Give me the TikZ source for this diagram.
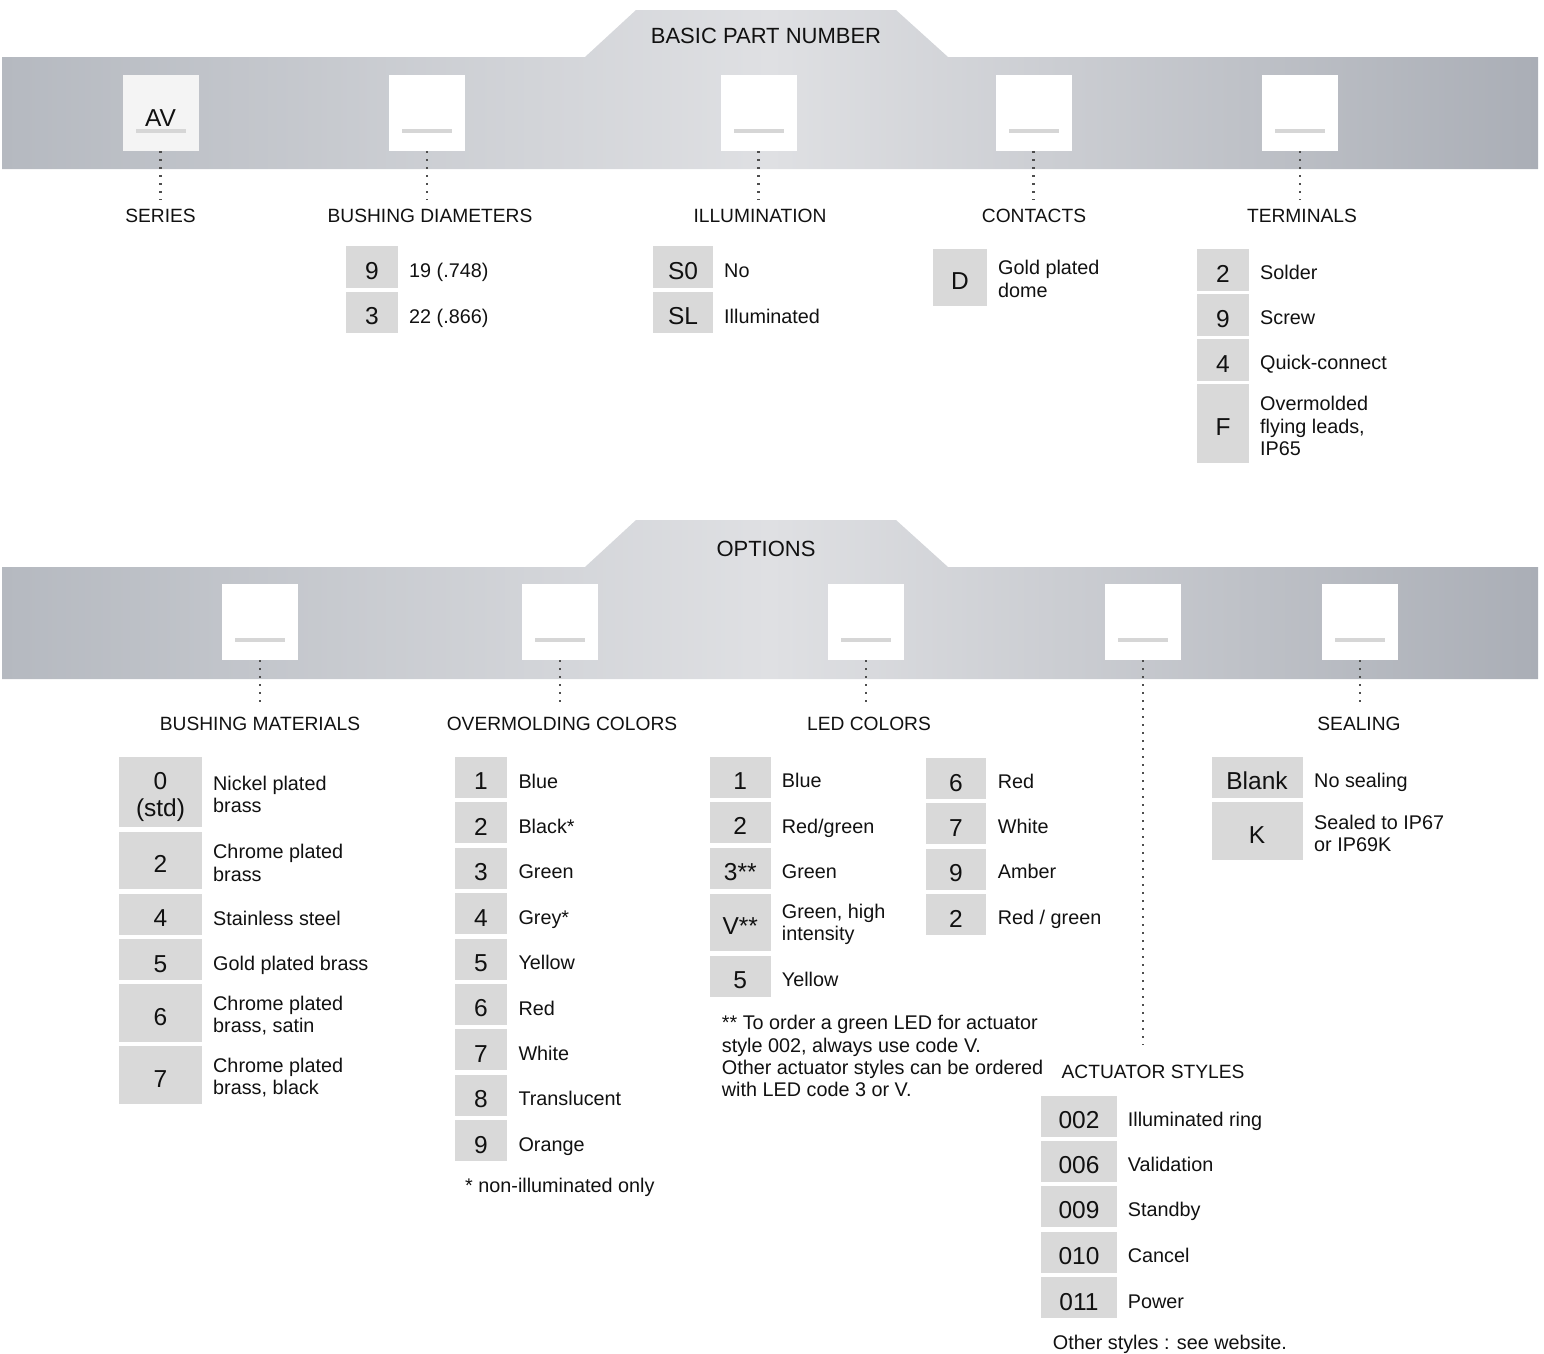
\documentclass[tikz,border=0pt]{standalone}
\usepackage{fontspec}
\setmainfont{Liberation Sans}
\definecolor{codegrey}{HTML}{D9D9D9}
\definecolor{dashgrey}{HTML}{D6D6D6}
\definecolor{barside}{HTML}{B5B9C0}
\definecolor{barmid}{HTML}{DFE0E3}
\definecolor{barright}{HTML}{AAAEB6}
\definecolor{inkblack}{HTML}{111111}
\definecolor{leadgrey}{HTML}{4E4E4E}
\definecolor{avwhite}{HTML}{F4F4F4}
\tikzset{
  bar/.style={left color=barside, right color=barright, middle color=barmid},
  slot/.style={fill=white, minimum width=76pt, minimum height=76pt, inner sep=0pt,
    path picture={\fill[dashgrey] ([xshift=-25pt,yshift=-16pt]path picture bounding box.center) rectangle ([xshift=25pt,yshift=-20pt]path picture bounding box.center);}},
  title/.style={font=\fontsize{22}{24}\selectfont, inner sep=0pt},
  head/.style={font=\fontsize{19.2}{22}\selectfont, inner sep=0pt},
  codebox/.style={fill=codegrey, inner sep=0pt},
  code/.style={codebox, text height=26pt, text depth=1.4pt, font=\fontsize{24.5}{27}\selectfont},
  desc/.style={anchor=base west, inner sep=0pt, align=left, font=\fontsize{19.8}{22.3}\selectfont},
  leader/.style={draw=leadgrey, line width=2.2pt, dash pattern=on 2pt off 6pt, shorten >=9pt}
}
\begin{document}
\begin{tikzpicture}[x=1pt,y=-1pt,every node/.append style={text=inkblack}]
\useasboundingbox (0,0) rectangle (1544,1353);

\path[bar] (2,169) -- (2,57) -- (585,57) -- (636,10) -- (896,10) -- (948,57) -- (1538,57) -- (1538,169) -- cycle;
\node[title] (tBasic) at (766,36) {BASIC PART NUMBER};

\node[slot, fill=avwhite] (sSeries) at (160.5,113) {};
\node[anchor=base, inner sep=0pt, font=\fontsize{24.5}{27}\selectfont] (tAV) at (160.5,126) {AV};
\node[slot] (sBushDia) at (427,113) {};
\node[slot] (sIllum) at (758.5,113) {};
\node[slot] (sContacts) at (1033.5,113) {};
\node[slot] (sTerm) at (1300,113) {};

\node[head] (lSeries) at (160.5,216) {SERIES};
\node[head] (lBushDia) at (430,216) {BUSHING DIAMETERS};
\node[head] (lIllum) at (760,216) {ILLUMINATION};
\node[head] (lContacts) at (1034,216) {CONTACTS};
\node[head] (lTerm) at (1302,216) {TERMINALS};

\draw[leader] (sSeries.south) -- (sSeries.south |- lSeries.north);
\draw[leader] (sBushDia.south) -- (sBushDia.south |- lBushDia.north);
\draw[leader] (sIllum.south) -- (sIllum.south |- lIllum.north);
\draw[leader] (sContacts.south) -- (sContacts.south |- lContacts.north);
\draw[leader] (sTerm.south) -- (sTerm.south |- lTerm.north);

\node[code, minimum width=52pt, minimum height=42pt] (bd9) at (372,267) {9};
\node[code, minimum width=52pt, minimum height=41pt] (bd3) at (372,312.5) {3};
\node[desc] (dbd9) at (409,277.5) {19 (.748)};
\node[desc] (dbd3) at (409,323) {22 (.866)};

\node[code, minimum width=60pt, minimum height=42pt] (il0) at (683,267) {S0};
\node[code, minimum width=60pt, minimum height=41pt] (ilL) at (683,312.5) {SL};
\node[desc] (dil0) at (724,277.5) {No};
\node[desc] (dilL) at (724,323) {Illuminated};

\node[code, minimum width=54pt, minimum height=57pt] (coD) at (960,277.5) {D};
\node[desc, anchor=west] (dcoD) at (998,279) {Gold plated\\dome};

\node[code, minimum width=52pt, minimum height=42pt] (te2) at (1223,270) {2};
\node[code, minimum width=52pt, minimum height=42pt] (te9) at (1223,315) {9};
\node[code, minimum width=52pt, minimum height=42pt] (te4) at (1223,360) {4};
\node[code, minimum width=52pt, minimum height=79pt] (teF) at (1223,423.5) {F};
\node[desc] (dte2) at (1260,279.5) {Solder};
\node[desc] (dte9) at (1260,324.5) {Screw};
\node[desc] (dte4) at (1260,369.5) {Quick-connect};
\node[desc, anchor=west] (dteF) at (1260,426) {Overmolded\\flying leads,\\IP65};

\path[bar] (2,679) -- (2,567) -- (585,567) -- (636,520) -- (896,520) -- (948,567) -- (1538,567) -- (1538,679) -- cycle;
\node[title] (tOptions) at (766,549) {OPTIONS};

\node[slot] (sBushMat) at (260,622) {};
\node[slot] (sOverCol) at (560,622) {};
\node[slot] (sLED) at (866,622) {};
\node[slot] (sActuator) at (1143,622) {};
\node[slot] (sSeal) at (1360,622) {};

\node[head] (lBushMat) at (260,724) {BUSHING MATERIALS};
\node[head] (lOverCol) at (562,724) {OVERMOLDING COLORS};
\node[head] (lLED) at (869,724) {LED COLORS};
\node[head] (lSeal) at (1359,724) {SEALING};
\node[head] (lActuator) at (1153,1071.5) {ACTUATOR STYLES};
\coordinate (aEnd) at (1143,1054);

\draw[leader] (sBushMat.south) -- (sBushMat.south |- lBushMat.north);
\draw[leader] (sOverCol.south) -- (sOverCol.south |- lOverCol.north);
\draw[leader] (sLED.south) -- (sLED.south |- lLED.north);
\draw[leader] (sSeal.south) -- (sSeal.south |- lSeal.north);
\draw[leader] (sActuator.south) -- (aEnd);

\node[codebox, minimum width=83pt, minimum height=70pt] (bm0) at (160.5,792) {};
\node[align=center, inner sep=0pt, font=\fontsize{24.5}{27}\selectfont] (bm0t) at (160.5,797.3) {0\\(std)};
\node[code, minimum width=83pt, minimum height=57pt] (bm2) at (160.5,860.5) {2};
\node[code, minimum width=83pt, minimum height=41pt] (bm4) at (160.5,914.5) {4};
\node[code, minimum width=83pt, minimum height=41pt] (bm5) at (160.5,959.8) {5};
\node[code, minimum width=83pt, minimum height=58pt] (bm6) at (160.5,1013) {6};
\node[code, minimum width=83pt, minimum height=58pt] (bm7) at (160.5,1075) {7};
\node[desc, anchor=west] (dbm0) at (213,794.5) {Nickel plated\\brass};
\node[desc, anchor=west] (dbm2) at (213,863) {Chrome plated\\brass};
\node[desc] (dbm4) at (213,925) {Stainless steel};
\node[desc] (dbm5) at (213,970.3) {Gold plated brass};
\node[desc, anchor=west] (dbm6) at (213,1015.5) {Chrome plated\\brass, satin};
\node[desc, anchor=west] (dbm7) at (213,1077.5) {Chrome plated\\brass, black};

\node[code, minimum width=52pt, minimum height=41pt] (oc1) at (481,777.5) {1};
\node[code, minimum width=52pt, minimum height=41pt] (oc2) at (481,822.9) {2};
\node[code, minimum width=52pt, minimum height=41pt] (oc3) at (481,868.3) {3};
\node[code, minimum width=52pt, minimum height=41pt] (oc4) at (481,913.7) {4};
\node[code, minimum width=52pt, minimum height=41pt] (oc5) at (481,959.1) {5};
\node[code, minimum width=52pt, minimum height=41pt] (oc6) at (481,1004.5) {6};
\node[code, minimum width=52pt, minimum height=41pt] (oc7) at (481,1049.9) {7};
\node[code, minimum width=52pt, minimum height=41pt] (oc8) at (481,1095.3) {8};
\node[code, minimum width=52pt, minimum height=41pt] (oc9) at (481,1140.7) {9};
\node[desc] (doc1) at (518.3,788) {Blue};
\node[desc] (doc2) at (518.3,833.4) {Black*};
\node[desc] (doc3) at (518.3,878.8) {Green};
\node[desc] (doc4) at (518.3,924.2) {Grey*};
\node[desc] (doc5) at (518.3,969.6) {Yellow};
\node[desc] (doc6) at (518.3,1015) {Red};
\node[desc] (doc7) at (518.3,1060.4) {White};
\node[desc] (doc8) at (518.3,1105.8) {Translucent};
\node[desc] (doc9) at (518.3,1151.2) {Orange};
\node[desc] (fnOver) at (465,1192) {* non-illuminated only};

\node[code, minimum width=61pt, minimum height=41pt] (le1) at (740.3,777) {1};
\node[code, minimum width=61pt, minimum height=41pt] (le2) at (740.3,822.5) {2};
\node[code, minimum width=61pt, minimum height=41pt] (le3) at (740.3,868) {3**};
\node[code, minimum width=61pt, minimum height=57pt] (leV) at (740.3,922) {V**};
\node[code, minimum width=61pt, minimum height=41pt] (le5) at (740.3,976.3) {5};
\node[desc] (dle1) at (781.7,787.5) {Blue};
\node[desc] (dle2) at (781.7,833) {Red/green};
\node[desc] (dle3) at (781.7,878.5) {Green};
\node[desc, anchor=west] (dleV) at (781.7,924.5) {Green, high\\intensity};
\node[desc] (dle5) at (781.7,986.8) {Yellow};
\node[code, minimum width=60pt, minimum height=41pt] (le6) at (956,778.7) {6};
\node[code, minimum width=60pt, minimum height=41pt] (le7) at (956,823.7) {7};
\node[code, minimum width=60pt, minimum height=41pt] (le9) at (956,869.5) {9};
\node[code, minimum width=60pt, minimum height=41pt] (le2b) at (956,914.7) {2};
\node[desc] (dle6) at (997.7,788) {Red};
\node[desc] (dle7) at (997.7,833) {White};
\node[desc] (dle9) at (997.7,878.5) {Amber};
\node[desc] (dle2b) at (997.7,924) {Red / green};
\node[desc, anchor=west] (fnLED) at (721.7,1056.3) {** To order a green LED for actuator\\style 002, always use code V.\\Other actuator styles can be ordered\\with LED code 3 or V.};

\node[code, minimum width=91pt, minimum height=41pt] (seB) at (1257,777) {Blank};
\node[code, minimum width=91pt, minimum height=58pt] (seK) at (1257,831) {K};
\node[desc] (dseB) at (1314,787.5) {No sealing};
\node[desc, anchor=west] (dseK) at (1314,833.5) {Sealed to IP67\\or IP69K};

\node[code, minimum width=76pt, minimum height=41pt] (ac002) at (1079,1116) {002};
\node[code, minimum width=76pt, minimum height=41pt] (ac006) at (1079,1161.2) {006};
\node[code, minimum width=76pt, minimum height=41pt] (ac009) at (1079,1206.4) {009};
\node[code, minimum width=76pt, minimum height=41pt] (ac010) at (1079,1252.2) {010};
\node[code, minimum width=76pt, minimum height=41pt] (ac011) at (1079,1297.8) {011};
\node[desc] (dac002) at (1127.7,1126.5) {Illuminated ring};
\node[desc] (dac006) at (1127.7,1171.7) {Validation};
\node[desc] (dac009) at (1127.7,1216.9) {Standby};
\node[desc] (dac010) at (1127.7,1262.7) {Cancel};
\node[desc] (dac011) at (1127.7,1308.3) {Power};
\node[desc] (fnActuator) at (1052.7,1349.5) {Other styles : see website.};
\end{tikzpicture}
\end{document}
